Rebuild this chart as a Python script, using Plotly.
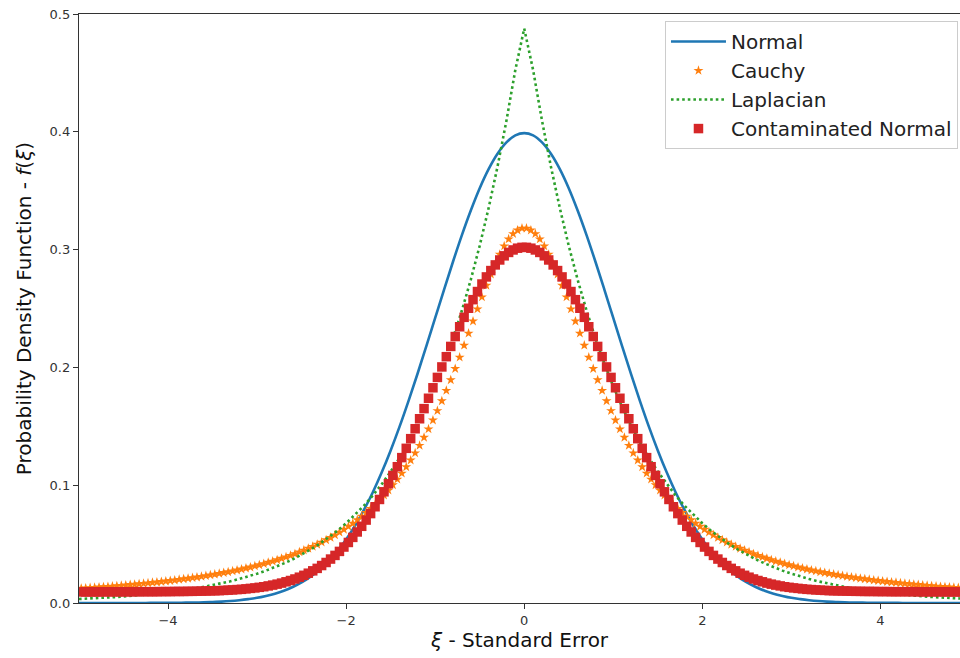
import plotly.graph_objects as go

# ---------------- data ----------------
x_markers = [
    -4.975, -4.925, -4.875, -4.825, -4.775, -4.725, -4.675, -4.625, -4.575, -4.525,
    -4.475, -4.425, -4.375, -4.325, -4.275, -4.225, -4.175, -4.125, -4.075, -4.025,
    -3.975, -3.925, -3.875, -3.825, -3.775, -3.725, -3.675, -3.625, -3.575, -3.525,
    -3.475, -3.425, -3.375, -3.325, -3.275, -3.225, -3.175, -3.125, -3.075, -3.025,
    -2.975, -2.925, -2.875, -2.825, -2.775, -2.725, -2.675, -2.625, -2.575, -2.525,
    -2.475, -2.425, -2.375, -2.325, -2.275, -2.225, -2.175, -2.125, -2.075, -2.025,
    -1.975, -1.925, -1.875, -1.825, -1.775, -1.725, -1.675, -1.625, -1.575, -1.525,
    -1.475, -1.425, -1.375, -1.325, -1.275, -1.225, -1.175, -1.125, -1.075, -1.025,
    -0.975, -0.925, -0.875, -0.825, -0.775, -0.725, -0.675, -0.625, -0.575, -0.525,
    -0.475, -0.425, -0.375, -0.325, -0.275, -0.225, -0.175, -0.125, -0.075, -0.025,
    0.025, 0.075, 0.125, 0.175, 0.225, 0.275, 0.325, 0.375, 0.425, 0.475,
    0.525, 0.575, 0.625, 0.675, 0.725, 0.775, 0.825, 0.875, 0.925, 0.975,
    1.025, 1.075, 1.125, 1.175, 1.225, 1.275, 1.325, 1.375, 1.425, 1.475,
    1.525, 1.575, 1.625, 1.675, 1.725, 1.775, 1.825, 1.875, 1.925, 1.975,
    2.025, 2.075, 2.125, 2.175, 2.225, 2.275, 2.325, 2.375, 2.425, 2.475,
    2.525, 2.575, 2.625, 2.675, 2.725, 2.775, 2.825, 2.875, 2.925, 2.975,
    3.025, 3.075, 3.125, 3.175, 3.225, 3.275, 3.325, 3.375, 3.425, 3.475,
    3.525, 3.575, 3.625, 3.675, 3.725, 3.775, 3.825, 3.875, 3.925, 3.975,
    4.025, 4.075, 4.125, 4.175, 4.225, 4.275, 4.325, 4.375, 4.425, 4.475,
    4.525, 4.575, 4.625, 4.675, 4.725, 4.775, 4.825, 4.875, 4.925, 4.975,
]

cauchy_y = [
    0.0124, 0.0126, 0.0129, 0.0131, 0.0134, 0.0136, 0.0139, 0.0142, 0.0145, 0.0148,
    0.0151, 0.0155, 0.0158, 0.0162, 0.0165, 0.0169, 0.0173, 0.0177, 0.0181, 0.0185,
    0.0189, 0.0194, 0.0199, 0.0204, 0.0209, 0.0214, 0.0219, 0.0225, 0.0231, 0.0237,
    0.0243, 0.0250, 0.0257, 0.0264, 0.0271, 0.0279, 0.0287, 0.0296, 0.0304, 0.0314,
    0.0323, 0.0333, 0.0344, 0.0354, 0.0366, 0.0378, 0.0390, 0.0403, 0.0417, 0.0432,
    0.0447, 0.0463, 0.0479, 0.0497, 0.0515, 0.0535, 0.0555, 0.0577, 0.0600, 0.0624,
    0.0650, 0.0676, 0.0705, 0.0735, 0.0767, 0.0801, 0.0836, 0.0874, 0.0915, 0.0957,
    0.1002, 0.1050, 0.1101, 0.1155, 0.1212, 0.1273, 0.1337, 0.1405, 0.1477, 0.1552,
    0.1632, 0.1715, 0.1803, 0.1894, 0.1989, 0.2086, 0.2187, 0.2289, 0.2392, 0.2495,
    0.2597, 0.2696, 0.2791, 0.2879, 0.2959, 0.3030, 0.3089, 0.3134, 0.3165, 0.3181,
    0.3181, 0.3165, 0.3134, 0.3089, 0.3030, 0.2959, 0.2879, 0.2791, 0.2696, 0.2597,
    0.2495, 0.2392, 0.2289, 0.2187, 0.2086, 0.1989, 0.1894, 0.1803, 0.1715, 0.1632,
    0.1552, 0.1477, 0.1405, 0.1337, 0.1273, 0.1212, 0.1155, 0.1101, 0.1050, 0.1002,
    0.0957, 0.0915, 0.0874, 0.0836, 0.0801, 0.0767, 0.0735, 0.0705, 0.0676, 0.0650,
    0.0624, 0.0600, 0.0577, 0.0555, 0.0535, 0.0515, 0.0497, 0.0479, 0.0463, 0.0447,
    0.0432, 0.0417, 0.0403, 0.0390, 0.0378, 0.0366, 0.0354, 0.0344, 0.0333, 0.0323,
    0.0314, 0.0304, 0.0296, 0.0287, 0.0279, 0.0271, 0.0264, 0.0257, 0.0250, 0.0243,
    0.0237, 0.0231, 0.0225, 0.0219, 0.0214, 0.0209, 0.0204, 0.0199, 0.0194, 0.0189,
    0.0185, 0.0181, 0.0177, 0.0173, 0.0169, 0.0165, 0.0162, 0.0158, 0.0155, 0.0151,
    0.0148, 0.0145, 0.0142, 0.0139, 0.0136, 0.0134, 0.0131, 0.0129, 0.0126, 0.0124,
]

contaminated_y = [
    0.0094, 0.0094, 0.0094, 0.0094, 0.0094, 0.0095, 0.0095, 0.0095, 0.0095, 0.0095,
    0.0095, 0.0095, 0.0096, 0.0096, 0.0096, 0.0096, 0.0096, 0.0096, 0.0097, 0.0097,
    0.0097, 0.0098, 0.0098, 0.0098, 0.0099, 0.0099, 0.0100, 0.0101, 0.0102, 0.0103,
    0.0104, 0.0105, 0.0107, 0.0109, 0.0111, 0.0114, 0.0116, 0.0120, 0.0124, 0.0128,
    0.0133, 0.0138, 0.0145, 0.0152, 0.0160, 0.0169, 0.0180, 0.0191, 0.0204, 0.0219,
    0.0235, 0.0253, 0.0273, 0.0294, 0.0318, 0.0344, 0.0373, 0.0404, 0.0438, 0.0475,
    0.0514, 0.0557, 0.0603, 0.0651, 0.0704, 0.0759, 0.0817, 0.0879, 0.0944, 0.1012,
    0.1083, 0.1157, 0.1234, 0.1313, 0.1395, 0.1479, 0.1564, 0.1650, 0.1738, 0.1827,
    0.1915, 0.2004, 0.2091, 0.2178, 0.2262, 0.2345, 0.2425, 0.2502, 0.2575, 0.2644,
    0.2708, 0.2768, 0.2822, 0.2870, 0.2912, 0.2947, 0.2976, 0.2997, 0.3012, 0.3019,
    0.3019, 0.3012, 0.2997, 0.2976, 0.2947, 0.2912, 0.2870, 0.2822, 0.2768, 0.2708,
    0.2644, 0.2575, 0.2502, 0.2425, 0.2345, 0.2262, 0.2178, 0.2091, 0.2004, 0.1915,
    0.1827, 0.1738, 0.1650, 0.1564, 0.1479, 0.1395, 0.1313, 0.1234, 0.1157, 0.1083,
    0.1012, 0.0944, 0.0879, 0.0817, 0.0759, 0.0704, 0.0651, 0.0603, 0.0557, 0.0514,
    0.0475, 0.0438, 0.0404, 0.0373, 0.0344, 0.0318, 0.0294, 0.0273, 0.0253, 0.0235,
    0.0219, 0.0204, 0.0191, 0.0180, 0.0169, 0.0160, 0.0152, 0.0145, 0.0138, 0.0133,
    0.0128, 0.0124, 0.0120, 0.0116, 0.0114, 0.0111, 0.0109, 0.0107, 0.0105, 0.0104,
    0.0103, 0.0102, 0.0101, 0.0100, 0.0099, 0.0099, 0.0098, 0.0098, 0.0098, 0.0097,
    0.0097, 0.0097, 0.0096, 0.0096, 0.0096, 0.0096, 0.0096, 0.0096, 0.0095, 0.0095,
    0.0095, 0.0095, 0.0095, 0.0095, 0.0095, 0.0094, 0.0094, 0.0094, 0.0094, 0.0094,
]

x_lines = [
    -5.0, -4.9, -4.8, -4.7, -4.6, -4.5, -4.4, -4.3, -4.2, -4.1,
    -4.0, -3.9, -3.8, -3.7, -3.6, -3.5, -3.4, -3.3, -3.2, -3.1,
    -3.0, -2.9, -2.8, -2.7, -2.6, -2.5, -2.4, -2.3, -2.2, -2.1,
    -2.0, -1.9, -1.8, -1.7, -1.6, -1.5, -1.4, -1.3, -1.2, -1.1,
    -1.0, -0.9, -0.8, -0.7, -0.6, -0.5, -0.4, -0.3, -0.2, -0.1,
    0.0,
    0.1, 0.2, 0.3, 0.4, 0.5, 0.6, 0.7, 0.8, 0.9, 1.0,
    1.1, 1.2, 1.3, 1.4, 1.5, 1.6, 1.7, 1.8, 1.9, 2.0,
    2.1, 2.2, 2.3, 2.4, 2.5, 2.6, 2.7, 2.8, 2.9, 3.0,
    3.1, 3.2, 3.3, 3.4, 3.5, 3.6, 3.7, 3.8, 3.9, 4.0,
    4.1, 4.2, 4.3, 4.4, 4.5, 4.6, 4.7, 4.8, 4.9, 5.0,
]

normal_y = [
    0.0000, 0.0000, 0.0000, 0.0000, 0.0000, 0.0000, 0.0000, 0.0000, 0.0001, 0.0001,
    0.0001, 0.0002, 0.0003, 0.0004, 0.0006, 0.0009, 0.0012, 0.0017, 0.0024, 0.0033,
    0.0044, 0.0060, 0.0079, 0.0104, 0.0136, 0.0175, 0.0224, 0.0283, 0.0355, 0.0440,
    0.0540, 0.0656, 0.0790, 0.0940, 0.1109, 0.1295, 0.1497, 0.1714, 0.1942, 0.2179,
    0.2420, 0.2661, 0.2897, 0.3123, 0.3332, 0.3521, 0.3683, 0.3814, 0.3910, 0.3970,
    0.3989,
    0.3970, 0.3910, 0.3814, 0.3683, 0.3521, 0.3332, 0.3123, 0.2897, 0.2661, 0.2420,
    0.2179, 0.1942, 0.1714, 0.1497, 0.1295, 0.1109, 0.0940, 0.0790, 0.0656, 0.0540,
    0.0440, 0.0355, 0.0283, 0.0224, 0.0175, 0.0136, 0.0104, 0.0079, 0.0060, 0.0044,
    0.0033, 0.0024, 0.0017, 0.0012, 0.0009, 0.0006, 0.0004, 0.0003, 0.0002, 0.0001,
    0.0001, 0.0001, 0.0000, 0.0000, 0.0000, 0.0000, 0.0000, 0.0000, 0.0000, 0.0000,
]

laplacian_y = [
    0.0034, 0.0037, 0.0041, 0.0045, 0.0050, 0.0056, 0.0061, 0.0068, 0.0075, 0.0083,
    0.0092, 0.0101, 0.0112, 0.0124, 0.0137, 0.0151, 0.0167, 0.0184, 0.0204, 0.0225,
    0.0249, 0.0275, 0.0304, 0.0336, 0.0371, 0.0410, 0.0454, 0.0501, 0.0554, 0.0612,
    0.0677, 0.0748, 0.0826, 0.0913, 0.1009, 0.1116, 0.1233, 0.1363, 0.1506, 0.1664,
    0.1839, 0.2033, 0.2247, 0.2483, 0.2744, 0.3033, 0.3352, 0.3704, 0.4094, 0.4524,
    0.4877,
    0.4524, 0.4094, 0.3704, 0.3352, 0.3033, 0.2744, 0.2483, 0.2247, 0.2033, 0.1839,
    0.1664, 0.1506, 0.1363, 0.1233, 0.1116, 0.1009, 0.0913, 0.0826, 0.0748, 0.0677,
    0.0612, 0.0554, 0.0501, 0.0454, 0.0410, 0.0371, 0.0336, 0.0304, 0.0275, 0.0249,
    0.0225, 0.0204, 0.0184, 0.0167, 0.0151, 0.0137, 0.0124, 0.0112, 0.0101, 0.0092,
    0.0083, 0.0075, 0.0068, 0.0061, 0.0056, 0.0050, 0.0045, 0.0041, 0.0037, 0.0034,
]

x_ticks = [-4, -2, 0, 2, 4]
y_ticks = [0.0, 0.1, 0.2, 0.3, 0.4, 0.5]

# ---------------- figure ----------------
fig = go.Figure()
fig.add_trace(go.Scatter(x=x_lines, y=normal_y, mode="lines", name="Normal",
                         line=dict(color="#1f77b4", width=2.6, shape="spline")))
fig.add_trace(go.Scatter(x=x_markers, y=cauchy_y, mode="markers", name="Cauchy",
                         marker=dict(symbol="star", size=7.5, color="#ff7f0e",
                                     line=dict(width=0))))
fig.add_trace(go.Scatter(x=x_lines, y=laplacian_y, mode="lines", name="Laplacian",
                         line=dict(color="#2ca02c", width=2.6, dash="2.6px,3px")))
fig.add_trace(go.Scatter(x=x_markers, y=contaminated_y, mode="markers",
                         name="Contaminated Normal",
                         marker=dict(symbol="square", size=9.5, color="#d62728",
                                     line=dict(width=0))))

axis_color = "#333333"
fig.update_layout(
    width=960, height=658,
    margin=dict(l=79, r=0, t=14, b=55),
    paper_bgcolor="white", plot_bgcolor="white",
    font=dict(family="DejaVu Sans", color="#222222"),
    showlegend=True,
    legend=dict(
        x=0.9977, y=0.988, xanchor="right", yanchor="top",
        bgcolor="rgba(255,255,255,0.85)", bordercolor="#cccccc", borderwidth=1,
        font=dict(size=20, family="DejaVu Sans", color="#222222"),
        tracegroupgap=0, itemwidth=55,
    ),
    xaxis=dict(
        range=[-5.0, 4.894], tickvals=x_ticks, ticks="outside", ticklen=5,
        tickwidth=1.2, tickcolor=axis_color, showline=True, linecolor=axis_color,
        linewidth=1.3, mirror=True, showgrid=False, zeroline=False,
        tickfont=dict(size=13, color="#333333"),
        title=dict(text="<i>ξ</i> - Standard Error", font=dict(size=20, color="#111111"),
                   standoff=6),
    ),
    yaxis=dict(
        range=[0, 0.5], tickvals=y_ticks, tickformat=".1f", ticks="outside",
        ticklen=5, tickwidth=1.2, tickcolor=axis_color, showline=True,
        linecolor=axis_color, linewidth=1.3, mirror=False, showgrid=False,
        zeroline=False, tickfont=dict(size=13, color="#333333"),
        title=dict(text="Probability Density Function - <i>f</i>(<i>ξ</i>)",
                   font=dict(size=20, color="#111111"), standoff=12),
    ),
)

fig.write_html("out.html")
